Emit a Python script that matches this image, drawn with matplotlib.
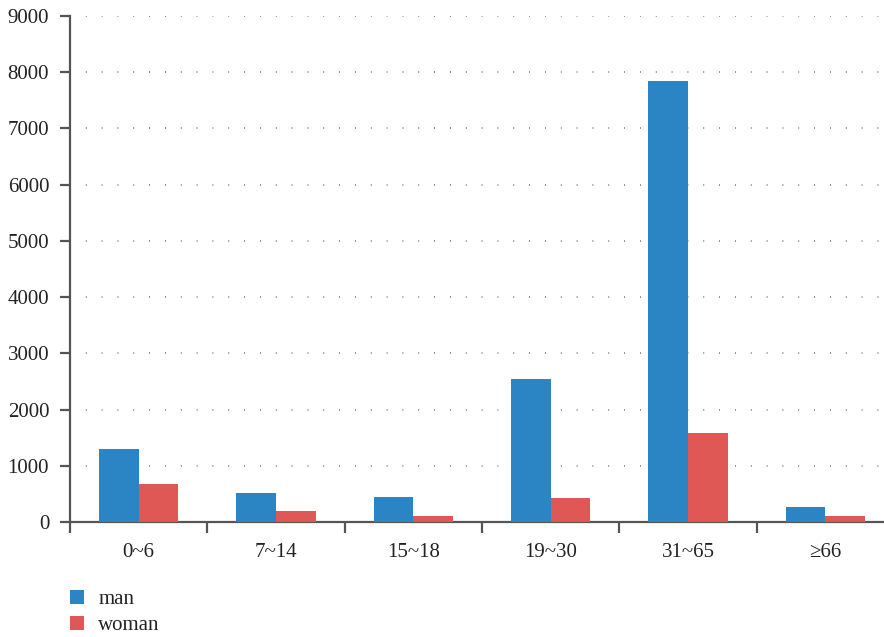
import matplotlib
matplotlib.use("Agg")
import matplotlib.pyplot as plt
import numpy as np

categories = ["0~6", "7~14", "15~18", "19~30", "31~65", "≥66"]
man = [1290, 510, 440, 2540, 7840, 260]
woman = [670, 190, 100, 420, 1580, 110]
yticks = [0, 1000, 2000, 3000, 4000, 5000, 6000, 7000, 8000, 9000]

plt.rcParams['font.family'] = ['Liberation Serif', 'DejaVu Serif']
W, H = 884, 637
fig = plt.figure(figsize=(W / 100, H / 100), dpi=100)
ax = fig.add_axes([70 / W, 1 - 522 / H, (894 - 70) / W, (522 - 16) / H])

x = np.arange(len(categories))
bw = 0.288
ax.bar(x - bw / 2, man, width=bw, color="#2b84c3", label="man", zorder=3)
ax.bar(x + bw / 2, woman, width=bw, color="#df5855", label="woman", zorder=3)

ax.set_xlim(-0.5, len(categories) - 0.5)
ax.set_ylim(0, 9000)
ax.set_yticks(yticks)
ax.set_xticks(np.arange(len(categories) + 1) - 0.5)
ax.set_xticklabels([])
ax.set_xticks(x, minor=True)
ax.set_xticklabels(categories, minor=True)

for s in ["top", "right"]:
    ax.spines[s].set_visible(False)
for s in ["left", "bottom"]:
    ax.spines[s].set_color("#555555")
    ax.spines[s].set_linewidth(1.6)

fs = 15
ax.tick_params(axis="x", which="major", length=8, width=1.6, color="#555555", direction="out")
ax.tick_params(axis="x", which="minor", length=0, pad=15, labelsize=fs, labelcolor="#222222")
ax.tick_params(axis="y", length=7, width=1.6, color="#555555", pad=8, labelsize=fs, labelcolor="#222222")

ax.yaxis.grid(True, linestyle=(0, (0.5, 9)), color="#666666", linewidth=1.2, zorder=0)
ax.xaxis.grid(False)

fig.legend(loc="upper left", bbox_to_anchor=(70 / W, 1 - 590 / H), frameon=False,
           handlelength=0.68, handleheight=0.68, handletextpad=0.68, labelspacing=0.3,
           borderpad=0, fontsize=fs, labelcolor="#222222", borderaxespad=0)

fig.savefig("out.png", dpi=100)
